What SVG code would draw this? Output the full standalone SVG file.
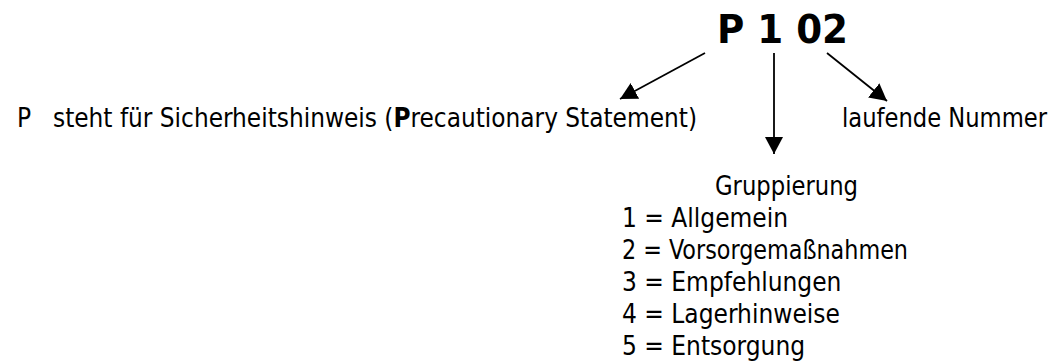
<svg xmlns="http://www.w3.org/2000/svg" width="1055" height="361" viewBox="0 0 1055 361">
  <style>
    text { font-family: "DejaVu Sans Condensed", "DejaVu Sans", "Liberation Sans", sans-serif; fill: #000; font-size: 26px; }
    .code { font-size: 39px; font-weight: bold; }
    .b { font-weight: bold; }
    .arrow { stroke: #000; stroke-width: 1.8; fill: none; marker-end: url(#head); }
  </style>
  <defs>
    <marker id="head" markerUnits="userSpaceOnUse" markerWidth="18" markerHeight="18" refX="17" refY="9" orient="auto">
      <path d="M0,0 L17,9 L0,18 z" fill="#000"/>
    </marker>
  </defs>
  <rect width="1055" height="361" fill="#fff"/>

  <g id="code">
    <text class="code" x="717" y="43" textLength="131" lengthAdjust="spacingAndGlyphs">P 1 02</text>
  </g>

  <g id="connectors">
    <line class="arrow" x1="705" y1="53" x2="620" y2="99"/>
    <line class="arrow" x1="774" y1="53" x2="774" y2="154"/>
    <line class="arrow" x1="827" y1="53" x2="887" y2="101"/>
  </g>

  <g id="prefix">
    <text x="17" y="127">P</text>
    <text x="53" y="127" textLength="644" lengthAdjust="spacingAndGlyphs">steht für Sicherheitshinweis (<tspan class="b">P</tspan>recautionary Statement)</text>
  </g>

  <g id="number">
    <text x="842" y="127" textLength="205" lengthAdjust="spacingAndGlyphs">laufende Nummer</text>
  </g>

  <g id="group">
    <text x="715" y="195" textLength="143" lengthAdjust="spacingAndGlyphs">Gruppierung</text>
    <text x="622" y="227">1 = Allgemein</text>
    <text x="622" y="259" textLength="286" lengthAdjust="spacingAndGlyphs">2 = Vorsorgemaßnahmen</text>
    <text x="622" y="291">3 = Empfehlungen</text>
    <text x="622" y="323">4 = Lagerhinweise</text>
    <text x="622" y="355">5 = Entsorgung</text>
  </g>
</svg>
